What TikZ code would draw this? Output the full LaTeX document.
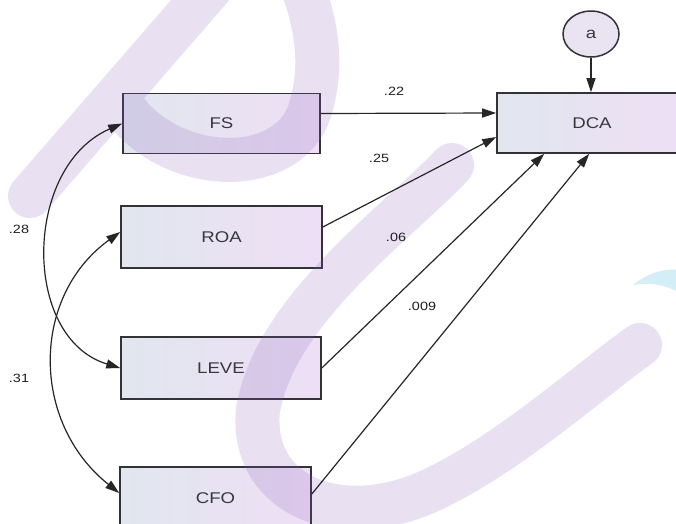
\documentclass[tikz,border=0pt]{standalone}
\usepackage{fontspec}
\setmainfont{Liberation Sans}
\newfontfamily\widesans[FakeStretch=1.2]{Liberation Sans}
\usetikzlibrary{arrows.meta,shapes.geometric,calc}

\definecolor{edgegray}{RGB}{50,50,55}
\definecolor{textgray}{RGB}{55,55,60}
\definecolor{boxleft}{RGB}{225,230,239}
\definecolor{boxright}{RGB}{238,223,245}
\definecolor{latentfill}{RGB}{233,227,242}
\definecolor{wmpurple}{RGB}{135,90,185}
\definecolor{wmcyan}{RGB}{212,238,248}

\begin{document}
\begin{tikzpicture}[x=1pt,y=-1pt,
  varbox/.style={draw=edgegray, line width=1.6pt, left color=boxleft, right color=boxright,
    minimum height=60pt, inner sep=0pt, font=\widesans\fontsize{15.5}{17}\selectfont, text=textgray},
  latent/.style={ellipse, draw=edgegray, line width=1.5pt, fill=latentfill,
    minimum width=56pt, minimum height=46pt, inner sep=0pt,
    font=\widesans\fontsize{15.5}{17}\selectfont, text=textgray},
  coef/.style={font=\widesans\fontsize{12}{14}\selectfont, text=black!88, inner sep=1pt},
  regpath/.style={draw=black!85, line width=1.2pt, -{Triangle[length=14pt,width=9pt]}},
  covpath/.style={draw=black!85, line width=1.2pt,
    {Triangle[length=14pt,width=9pt]}-{Triangle[length=14pt,width=9pt]}},
  wm/.style={draw=wmpurple, draw opacity=0.18, line width=44pt, line cap=round}
]
\useasboundingbox (0,0) rectangle (676,523);
\clip (0,0) rectangle (676,523);
\fill[white] (0,0) rectangle (676,523);

% observed variables
\node[varbox, minimum width=197pt] (FS)   at (221.5,123.5) {FS};
\node[varbox, minimum width=201pt, minimum height=62pt] (ROA)  at (221.5,237) {ROA};
\node[varbox, minimum width=200pt, minimum height=62pt] (LEVE) at (221,368) {LEVE};
\node[varbox, minimum width=191pt, minimum height=62pt] (CFO)  at (215.5,498) {CFO};
\node[varbox, minimum width=190pt] (DCA) at (592,123) {DCA};

% error term
\node[latent] (a) at (591,34) {a};

% background mark
\draw[wm] (30,196) -- (222,-25)
  (118,100) .. controls (165,176) and (288,180) .. (310,110)
            .. controls (322,70) and (320,30) .. (298,-25)
  (452,165) .. controls (395,225) and (275,310) .. (258,410)
            .. controls (250,490) and (330,530) .. (420,495)
            .. controls (500,462) and (590,380) .. (640,345);
\fill[wmcyan] (633,285) .. controls (648,273) and (664,268) .. (680,270)
  -- (680,293) .. controls (664,284) and (648,282) .. (633,285) -- cycle;

% regression paths
\draw[regpath] ([yshift=10pt]FS.east) -- ([yshift=10pt]DCA.west);
\draw[regpath] ([yshift=10pt]ROA.east) -- ([yshift=-14pt]DCA.west);
\draw[regpath] (LEVE.east) -- ([xshift=48pt]DCA.south west);
\draw[regpath] ([yshift=4pt]CFO.east) -- ([xshift=93pt]DCA.south west);
\draw[regpath] (a) -- (a |- DCA.north);

% covariances
\draw[covpath] (FS.west) .. controls +(-99,43) and +(-99,-30) .. (LEVE.west);
\draw[covpath] ([yshift=5pt]ROA.west) .. controls +(-89,64) and +(-89,-71) .. ([yshift=5pt]CFO.west);

% coefficients
\node[coef] (c22)  at (394,91)  {.22};
\node[coef] (c25)  at (379,158) {.25};
\node[coef] (c06)  at (396,237) {.06};
\node[coef] (c009) at (422,306) {.009};
\node[coef] (c28)  at (19,229)  {.28};
\node[coef] (c31)  at (19,378)  {.31};
\end{tikzpicture}
\end{document}
